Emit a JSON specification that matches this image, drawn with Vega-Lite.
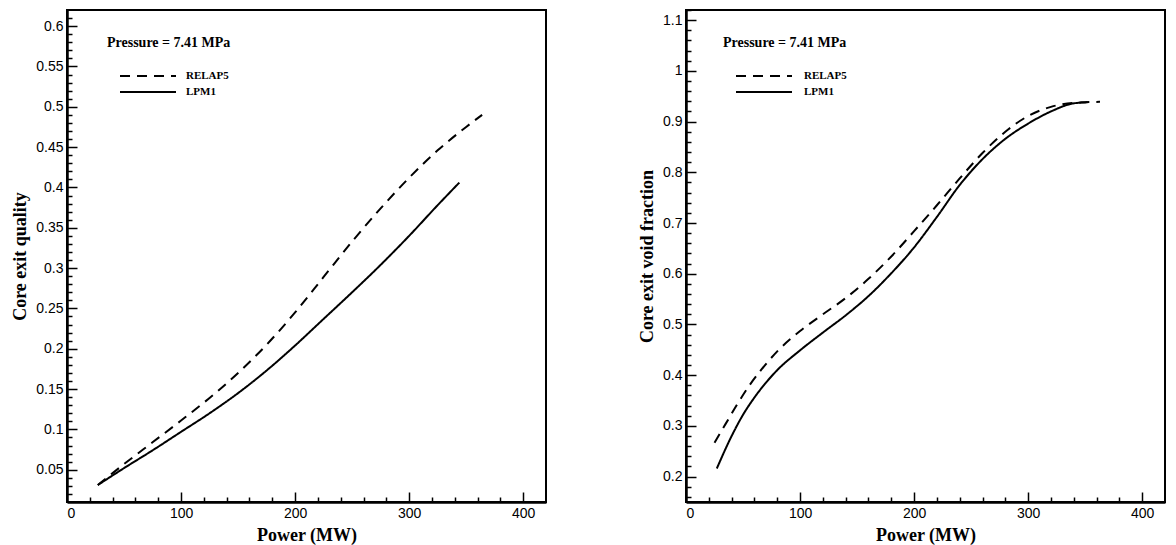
{
  "$schema": "https://vega.github.io/schema/vega-lite/v6.json",
  "padding": {"left": 10, "top": 8, "right": 0, "bottom": 0},
  "background": "white",
  "spacing": 90,
  "datasets": {
    "quality": [
      {"series": "RELAP5", "power": 27, "value": 0.031},
      {"series": "RELAP5", "power": 50, "value": 0.057},
      {"series": "RELAP5", "power": 75, "value": 0.084},
      {"series": "RELAP5", "power": 100, "value": 0.111},
      {"series": "RELAP5", "power": 125, "value": 0.139},
      {"series": "RELAP5", "power": 150, "value": 0.170},
      {"series": "RELAP5", "power": 175, "value": 0.205},
      {"series": "RELAP5", "power": 200, "value": 0.245},
      {"series": "RELAP5", "power": 225, "value": 0.289},
      {"series": "RELAP5", "power": 250, "value": 0.333},
      {"series": "RELAP5", "power": 275, "value": 0.374},
      {"series": "RELAP5", "power": 300, "value": 0.412},
      {"series": "RELAP5", "power": 325, "value": 0.446},
      {"series": "RELAP5", "power": 350, "value": 0.475},
      {"series": "RELAP5", "power": 364, "value": 0.490},
      {"series": "LPM1", "power": 27, "value": 0.031},
      {"series": "LPM1", "power": 50, "value": 0.052},
      {"series": "LPM1", "power": 75, "value": 0.074},
      {"series": "LPM1", "power": 100, "value": 0.097},
      {"series": "LPM1", "power": 125, "value": 0.120},
      {"series": "LPM1", "power": 150, "value": 0.145},
      {"series": "LPM1", "power": 175, "value": 0.173},
      {"series": "LPM1", "power": 200, "value": 0.204},
      {"series": "LPM1", "power": 225, "value": 0.237},
      {"series": "LPM1", "power": 250, "value": 0.270},
      {"series": "LPM1", "power": 275, "value": 0.304},
      {"series": "LPM1", "power": 300, "value": 0.340},
      {"series": "LPM1", "power": 325, "value": 0.378},
      {"series": "LPM1", "power": 344, "value": 0.406}
    ],
    "void": [
      {"series": "RELAP5", "power": 25, "value": 0.267},
      {"series": "RELAP5", "power": 35, "value": 0.305},
      {"series": "RELAP5", "power": 45, "value": 0.343},
      {"series": "RELAP5", "power": 55, "value": 0.378},
      {"series": "RELAP5", "power": 65, "value": 0.408},
      {"series": "RELAP5", "power": 80, "value": 0.447},
      {"series": "RELAP5", "power": 100, "value": 0.487},
      {"series": "RELAP5", "power": 120, "value": 0.520},
      {"series": "RELAP5", "power": 140, "value": 0.552},
      {"series": "RELAP5", "power": 160, "value": 0.590},
      {"series": "RELAP5", "power": 180, "value": 0.634},
      {"series": "RELAP5", "power": 200, "value": 0.684},
      {"series": "RELAP5", "power": 220, "value": 0.735},
      {"series": "RELAP5", "power": 240, "value": 0.788},
      {"series": "RELAP5", "power": 260, "value": 0.838},
      {"series": "RELAP5", "power": 280, "value": 0.880},
      {"series": "RELAP5", "power": 300, "value": 0.911},
      {"series": "RELAP5", "power": 320, "value": 0.929},
      {"series": "RELAP5", "power": 340, "value": 0.937},
      {"series": "RELAP5", "power": 363, "value": 0.939},
      {"series": "LPM1", "power": 27, "value": 0.216},
      {"series": "LPM1", "power": 40, "value": 0.280},
      {"series": "LPM1", "power": 50, "value": 0.322},
      {"series": "LPM1", "power": 60, "value": 0.356},
      {"series": "LPM1", "power": 70, "value": 0.385},
      {"series": "LPM1", "power": 80, "value": 0.410},
      {"series": "LPM1", "power": 100, "value": 0.449},
      {"series": "LPM1", "power": 120, "value": 0.484},
      {"series": "LPM1", "power": 140, "value": 0.518},
      {"series": "LPM1", "power": 160, "value": 0.556},
      {"series": "LPM1", "power": 180, "value": 0.601},
      {"series": "LPM1", "power": 200, "value": 0.652},
      {"series": "LPM1", "power": 220, "value": 0.712},
      {"series": "LPM1", "power": 240, "value": 0.775},
      {"series": "LPM1", "power": 260, "value": 0.826},
      {"series": "LPM1", "power": 280, "value": 0.866},
      {"series": "LPM1", "power": 300, "value": 0.896},
      {"series": "LPM1", "power": 320, "value": 0.920},
      {"series": "LPM1", "power": 340, "value": 0.936},
      {"series": "LPM1", "power": 352, "value": 0.938}
    ]
  },
  "hconcat": [
    {
      "width": 479,
      "height": 492,
      "data": {"name": "quality"},
      "layer": [
        {
          "mark": {"type": "line", "color": "black", "strokeWidth": 2, "clip": true, "interpolate": "monotone"},
          "encoding": {
            "x": {
              "field": "power", "type": "quantitative",
              "scale": {"domain": [0, 420], "nice": false, "zero": false},
              "axis": {"title": "Power (MW)", "orient": "bottom", "values": [0, 100, 200, 300, 400], "ticks": false}
            },
            "y": {
              "field": "value", "type": "quantitative",
              "scale": {"domain": [0.01, 0.62], "nice": false, "zero": false},
              "axis": {
                "title": "Core exit quality", "orient": "left", "format": ".2~f", "ticks": false,
                "values": [0.05, 0.1, 0.15, 0.2, 0.25, 0.3, 0.35, 0.4, 0.45, 0.5, 0.55, 0.6]
              }
            },
            "strokeDash": {
              "field": "series", "type": "nominal",
              "scale": {"domain": ["RELAP5", "LPM1"], "range": [[10, 7], [1, 0]]},
              "legend": {"title": "Pressure = 7.41 MPa", "orient": "none", "legendX": 40, "legendY": 26, "labelOffset": 9}
            }
          }
        },
        {
          "mark": {"type": "point", "opacity": 0},
          "encoding": {
            "x": {
              "field": "power", "type": "quantitative",
              "axis": {"title": null, "orient": "top", "offset": -492, "labels": false, "domain": false, "ticks": true, "tickSize": 10,
                "values": [100, 200, 300, 400]}
            },
            "y": {
              "field": "value", "type": "quantitative",
              "axis": {"title": null, "orient": "right", "offset": -479, "labels": false, "domain": false, "ticks": true, "tickSize": 10,
                "values": [0.05, 0.1, 0.15, 0.2, 0.25, 0.3, 0.35, 0.4, 0.45, 0.5, 0.55, 0.6]}
            }
          }
        },
        {
          "mark": {"type": "point", "opacity": 0},
          "encoding": {
            "x": {
              "field": "power", "type": "quantitative",
              "axis": {"title": null, "orient": "top", "offset": -492, "labels": false, "domain": false, "ticks": true, "tickSize": 5,
                "values": [20, 40, 60, 80, 120, 140, 160, 180, 220, 240, 260, 280, 320, 340, 360, 380]}
            },
            "y": {
              "field": "value", "type": "quantitative",
              "axis": {"title": null, "orient": "right", "offset": -479, "labels": false, "domain": false, "ticks": true, "tickSize": 5,
                "values": [0.02,0.03,0.04,0.06,0.07,0.08,0.09,0.11,0.12,0.13,0.14,0.16,0.17,0.18,0.19,0.21,0.22,0.23,0.24,0.26,0.27,0.28,0.29,0.31,0.32,0.33,0.34,0.36,0.37,0.38,0.39,0.41,0.42,0.43,0.44,0.46,0.47,0.48,0.49,0.51,0.52,0.53,0.54,0.56,0.57,0.58,0.59,0.61]}
            }
          }
        }
      ],
      "resolve": {"axis": {"x": "independent", "y": "independent"}}
    },
    {
      "width": 479,
      "height": 492,
      "data": {"name": "void"},
      "layer": [
        {
          "mark": {"type": "line", "color": "black", "strokeWidth": 2, "clip": true, "interpolate": "monotone"},
          "encoding": {
            "x": {
              "field": "power", "type": "quantitative",
              "scale": {"domain": [0, 420], "nice": false, "zero": false},
              "axis": {"title": "Power (MW)", "orient": "bottom", "values": [0, 100, 200, 300, 400], "ticks": false}
            },
            "y": {
              "field": "value", "type": "quantitative",
              "scale": {"domain": [0.15, 1.12], "nice": false, "zero": false},
              "axis": {
                "title": "Core exit void fraction", "orient": "left", "format": ".1~f", "ticks": false,
                "values": [0.2, 0.3, 0.4, 0.5, 0.6, 0.7, 0.8, 0.9, 1, 1.1]
              }
            },
            "strokeDash": {
              "field": "series", "type": "nominal",
              "scale": {"domain": ["RELAP5", "LPM1"], "range": [[10, 7], [1, 0]]},
              "legend": {"title": "Pressure = 7.41 MPa", "orient": "none", "legendX": 37, "legendY": 26}
            }
          }
        },
        {
          "mark": {"type": "point", "opacity": 0},
          "encoding": {
            "x": {
              "field": "power", "type": "quantitative",
              "axis": {"title": null, "orient": "top", "offset": -492, "labels": false, "domain": false, "ticks": true, "tickSize": 10,
                "values": [100, 200, 300, 400]}
            },
            "y": {
              "field": "value", "type": "quantitative",
              "axis": {"title": null, "orient": "right", "offset": -479, "labels": false, "domain": false, "ticks": true, "tickSize": 10,
                "values": [0.2, 0.3, 0.4, 0.5, 0.6, 0.7, 0.8, 0.9, 1, 1.1]}
            }
          }
        },
        {
          "mark": {"type": "point", "opacity": 0},
          "encoding": {
            "x": {
              "field": "power", "type": "quantitative",
              "axis": {"title": null, "orient": "top", "offset": -492, "labels": false, "domain": false, "ticks": true, "tickSize": 5,
                "values": [20, 40, 60, 80, 120, 140, 160, 180, 220, 240, 260, 280, 320, 340, 360, 380]}
            },
            "y": {
              "field": "value", "type": "quantitative",
              "axis": {"title": null, "orient": "right", "offset": -479, "labels": false, "domain": false, "ticks": true, "tickSize": 5,
                "values": [0.16,0.18,0.22,0.24,0.26,0.28,0.32,0.34,0.36,0.38,0.42,0.44,0.46,0.48,0.52,0.54,0.56,0.58,0.62,0.64,0.66,0.68,0.72,0.74,0.76,0.78,0.82,0.84,0.86,0.88,0.92,0.94,0.96,0.98,1.02,1.04,1.06,1.08,1.12]}
            }
          }
        }
      ],
      "resolve": {"axis": {"x": "independent", "y": "independent"}}
    }
  ],
  "resolve": {"scale": {"strokeDash": "independent"}, "legend": {"strokeDash": "independent"}},
  "config": {
    "view": {"stroke": "black", "strokeWidth": 2, "fill": null},
    "axis": {
      "grid": false,
      "zindex": 1,
      "domainColor": "black",
      "domainWidth": 2.5,
      "tickColor": "black",
      "tickWidth": 1.5,
      "labelColor": "black",
      "labelFont": "Liberation Sans",
      "labelFontSize": 14,
      "labelPadding": 4,
      "titleFont": "Liberation Serif",
      "titleFontSize": 18,
      "titleFontWeight": "bold",
      "titleColor": "black",
      "titlePadding": 6
    },
    "legend": {
      "padding": 0,
      "titleFont": "Liberation Serif",
      "titleFontSize": 14,
      "titleFontWeight": "bold",
      "titleColor": "black",
      "titlePadding": 20,
      "labelFont": "Liberation Serif",
      "labelFontSize": 11,
      "labelFontWeight": "bold",
      "labelColor": "black",
      "symbolType": "stroke",
      "symbolSize": 3136,
      "symbolStrokeWidth": 2,
      "symbolStrokeColor": "black",
      "symbolOffset": 12,
      "labelOffset": 11,
      "clipHeight": 12,
      "rowPadding": 4
    }
  }
}
